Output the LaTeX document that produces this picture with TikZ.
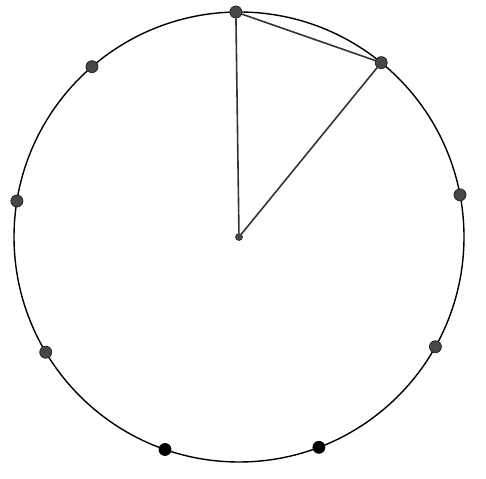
\documentclass[tikz,border=0pt]{standalone}
\usetikzlibrary{calc}
\begin{document}
\begin{tikzpicture}[x=1pt,y=1pt,
  gdot/.style={circle,fill=black!72,draw=black!85,line width=0.8pt,inner sep=0pt,minimum size=12pt},
  bdot/.style={circle,fill=black,draw=black,line width=0.8pt,inner sep=0pt,minimum size=12pt},
  cdot/.style={circle,fill=black!72,draw=black!85,line width=0.6pt,inner sep=0pt,minimum size=7pt},
  seg/.style={draw=black!80,line width=1.6pt}]
\useasboundingbox (0,0) rectangle (486,478);
\coordinate (O) at (239,241);
\draw[line width=1.4pt] (O) circle (225);
\foreach \k in {0,...,8} {
  \coordinate (p\k) at ($(O)+({90.8-40*\k}:225)$);
}
\node[cdot] (c) at (O) {};
\foreach \k in {0,1,2,3,6,7,8} { \node[gdot] (n\k) at (p\k) {}; }
\node[bdot] (n4) at (p4) {};
\node[bdot] (n5) at (p5) {};
\draw[seg] (n0) -- (c);
\draw[seg] (n0) -- (n1);
\draw[seg] (n1) -- (c);
\end{tikzpicture}
\end{document}
